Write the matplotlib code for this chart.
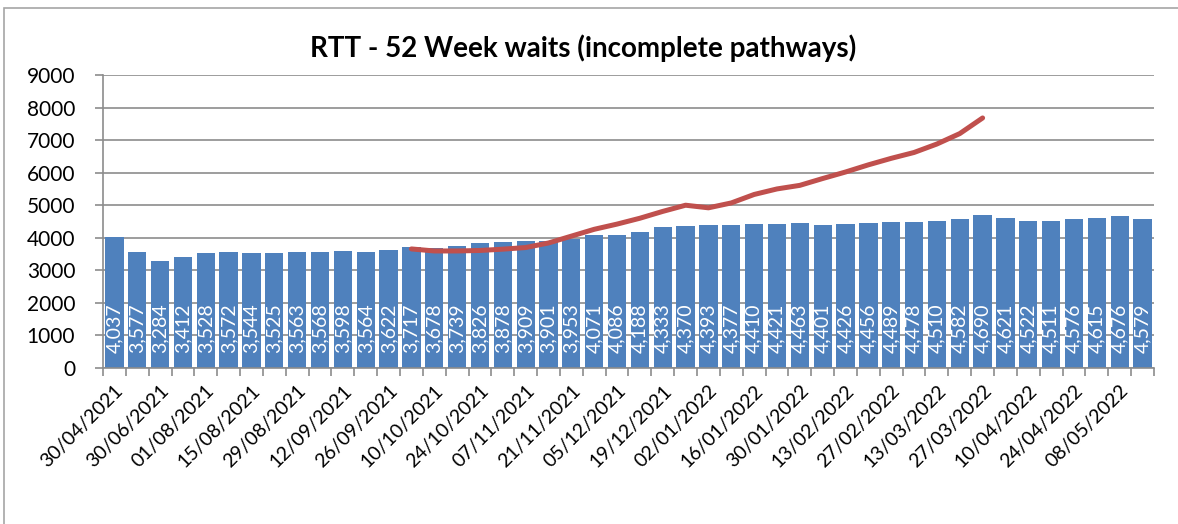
import matplotlib
matplotlib.use("Agg")
import matplotlib.pyplot as plt
import numpy as np
from matplotlib.patches import Rectangle

plt.rcParams['font.family'] = ['Lato', 'DejaVu Sans']

title = "RTT - 52 Week waits (incomplete pathways)"
bar_values = [4037, 3577, 3284, 3412, 3528, 3572, 3544, 3525, 3563, 3568, 3598, 3564,
              3622, 3717, 3678, 3739, 3826, 3878, 3909, 3901, 3953, 4071, 4086, 4188,
              4333, 4370, 4393, 4377, 4410, 4421, 4463, 4401, 4426, 4456, 4489, 4478,
              4510, 4582, 4690, 4621, 4522, 4511, 4576, 4615, 4676, 4579]
# trend line (starts at bar index 13, ends at bar index 38)
line_start = 13
line_values = [3657, 3595, 3595, 3610, 3650, 3700, 3840, 4050, 4260, 4420, 4600, 4810,
               5000, 4920, 5070, 5330, 5500, 5610, 5820, 6020, 6240, 6440, 6620, 6880,
               7200, 7680]
tick_labels = ["30/04/2021", "30/06/2021", "01/08/2021", "15/08/2021", "29/08/2021",
               "12/09/2021", "26/09/2021", "10/10/2021", "24/10/2021", "07/11/2021",
               "21/11/2021", "05/12/2021", "19/12/2021", "02/01/2022", "16/01/2022",
               "30/01/2022", "13/02/2022", "27/02/2022", "13/03/2022", "27/03/2022",
               "10/04/2022", "24/04/2022", "08/05/2022"]
y_ticks = [0, 1000, 2000, 3000, 4000, 5000, 6000, 7000, 8000, 9000]

fig = plt.figure(figsize=(11.78, 5.24), dpi=100)
fig.patches.append(Rectangle((0.003, -0.01), 1.0, 0.995, transform=fig.transFigure,
                             fill=False, edgecolor='#a6a6a6', linewidth=1.2))
ax = fig.add_axes([0.0874, 0.2977, 0.8922, 0.5592])

n = len(bar_values)
x = np.arange(n)
ax.bar(x, bar_values, width=0.8, color='#4F81BD', zorder=2)
for i, v in enumerate(bar_values):
    ax.annotate(f"{v:,}", xy=(i, 0), xytext=(0, 11), textcoords='offset points',
                rotation=90, ha='center', va='bottom', color='white', fontsize=14,
                zorder=3)

lx = np.arange(line_start, line_start + len(line_values))
ax.plot(lx, line_values, color='#C0504D', linewidth=3.6, solid_capstyle='round',
        solid_joinstyle='round', zorder=4)

ax.set_xlim(-0.5, n - 0.5)
ax.set_ylim(0, 9000)
ax.set_yticks(y_ticks)
ax.set_yticklabels([str(t) for t in y_ticks], fontsize=15)
ax.yaxis.grid(True, color='#8c8c8c', linewidth=1.2, zorder=0)
ax.set_axisbelow(True)

ax.set_xticks(np.arange(0, 2 * len(tick_labels), 2))
ax.set_xticklabels(tick_labels, rotation=45, ha='right', rotation_mode='anchor', fontsize=14)
ax.set_xticks(np.arange(-0.5, n, 1), minor=True)
ax.tick_params(axis='x', which='major', length=0, pad=10)
ax.tick_params(axis='x', which='minor', length=6, color='#8c8c8c', width=1.2)
ax.tick_params(axis='y', length=6, color='#8c8c8c', width=1.2, pad=14)

for s in ['top', 'right']:
    ax.spines[s].set_visible(False)
for s in ['left', 'bottom']:
    ax.spines[s].set_color('#8c8c8c')
    ax.spines[s].set_linewidth(1.2)

fig.text(0.495, 1 - 57 / 524, title, fontsize=20, fontweight='bold', ha='center',
         va='baseline')

fig.savefig("out.png", dpi=100)
